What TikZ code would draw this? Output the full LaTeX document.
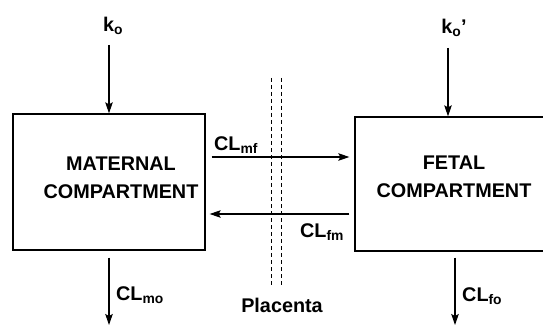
\documentclass[tikz,border=0pt]{standalone}
\usepackage{fontspec}
\setmainfont{Liberation Sans}
\usepackage{tikz}
\usetikzlibrary{arrows.meta, positioning, calc}

\begin{document}
\begin{tikzpicture}[
    x=1pt, y=-1pt,
    font=\bfseries\fontsize{19.8}{28}\selectfont,
    compbox/.style={rectangle, draw, line width=1.3pt, inner sep=0pt},
    flow/.style={-{Stealth[length=11pt,width=7.5pt,inset=2pt]}, line width=1.2pt},
    rate/.style={inner sep=0pt, anchor=base west},
    barrier/.style={line width=0.9pt, dash pattern=on 4pt off 3pt}
]
\useasboundingbox (0,0) rectangle (543,326);

% Compartments
\node[compbox, minimum width=192pt, minimum height=136pt] (maternal) at (109,182) {};
\node[align=center, inner sep=0pt] (mattext) at (121,178) {MATERNAL\\COMPARTMENT};
\node[compbox, minimum width=191pt, minimum height=134pt] (fetal) at (450.5,184) {};
\node[align=center, inner sep=0pt] (fettext) at (454,177) {FETAL\\COMPARTMENT};

% Input rates
\node[inner sep=0pt] (ko) at (113,26) {k\textsubscript{o}};
\node[inner sep=0pt] (kop) at (454,28) {k\textsubscript{o}'};
\coordinate (koin) at (109,45);
\coordinate (kopin) at (448,48);
\draw[flow] (koin) -- (maternal.north);
\draw[flow] (kopin) -- (kopin |- fetal.north);

% Elimination
\coordinate (moout) at (109,325);
\coordinate (foout) at (455,325);
\draw[flow] (moout |- maternal.south) ++(0,7) -- (moout);
\draw[flow] (foout |- fetal.south) ++(0,6) -- (foout);
\node[rate] (clmo) at (116,300) {CL\textsubscript{mo}};
\node[rate] (clfo) at (462,301) {CL\textsubscript{fo}};

% Placental transfer
\coordinate (mfa) at (maternal.east |- 0,157);
\coordinate (fma) at (fetal.west |- 0,214);
\draw[flow, shorten <=6pt, shorten >=5pt] (mfa) -- (mfa -| fetal.west);
\draw[flow, shorten <=5pt, shorten >=4pt] (fma) -- (fma -| maternal.east);
\node[rate] (clmf) at (214,150) {CL\textsubscript{mf}};
\node[rate] (clfm) at (300,237) {CL\textsubscript{fm}};

% Placenta
\coordinate (pl1) at (271,78);
\coordinate (pl2) at (281,78);
\draw[barrier] (pl1) -- ++(0,208);
\draw[barrier] (pl2) -- ++(0,208);
\node[inner sep=0pt] (placenta) at (282,305) {Placenta};

\end{tikzpicture}
\end{document}
